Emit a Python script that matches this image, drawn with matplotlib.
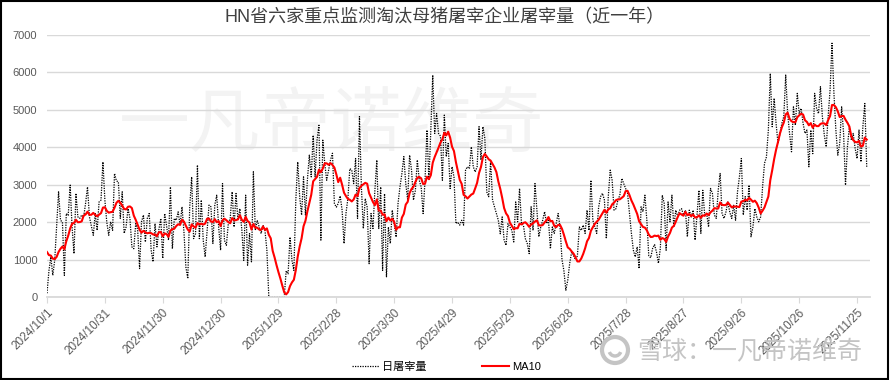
import matplotlib
matplotlib.use("Agg")
import matplotlib.pyplot as plt
from matplotlib.patches import Rectangle, Circle, Arc
from matplotlib.lines import Line2D
import pandas as pd

plt.rcParams["font.family"] = ["Liberation Sans", "Noto Sans CJK SC"]

title = "HN省六家重点监测淘汰母猪屠宰企业屠宰量（近一年）"
daily_name = "日屠宰量"
ma_name = "MA10"
start_date = "2024-10-01"

# last days of Sep 2024, only used so the MA10 has a value from the first day
warmup_sep24 = [1500, 1200, 1400, 1100, 1300, 1500, 1200, 1400, 1300]

# daily slaughter
oct24 = [100, 700, 1070, 580, 980, 1900, 2810, 2050, 2000, 580,
         2230, 2180, 2990, 1870, 1160, 2770, 2140, 2100, 2190, 2140,
         2500, 2940, 2140, 1900, 1650, 2230, 1780, 2540, 2590, 3610,
         2590]
nov24 = [2000, 1650, 2010, 1780, 3300, 3100, 3080, 2100, 2810, 1700,
         1870, 2360, 2100, 1340, 1290, 1960, 1800, 760, 2010, 2190,
         1470, 2100, 2230, 1250, 940, 1960, 1340, 1800, 2100, 1030]
dec24 = [2230, 1900, 1520, 2940, 1290, 2100, 2050, 2275, 1920, 2410,
         1740, 800, 490, 2410, 3210, 1560, 1690, 3525, 1560, 2590,
         1515, 1070, 1780, 2455, 2410, 1430, 2455, 2720, 1870, 1250,
         3030]
jan25 = [1515, 1380, 1960, 2100, 2810, 1870, 2765, 2050, 2360, 1800,
         980, 2720, 850, 1695, 940, 3345, 1780, 2050, 1870, 1695,
         1920, 1780, 1250, 0, 0, 0, 0, 0, 0, 0,
         0]
feb25 = [0, 700, 620, 1600, 980, 710, 2590, 3610, 2680, 2190,
         3210, 2190, 3120, 3790, 3210, 4320, 3210, 4190, 4590, 1520,
         4190, 3570, 3120, 3390, 3660, 3840, 2500, 2400]
mar25 = [2500, 2700, 2320, 1430, 2230, 2630, 3430, 3390, 3030, 3700,
         2100, 4820, 2940, 1830, 2630, 2400, 890, 2230, 1830, 2850,
         3660, 1830, 2940, 710, 2760, 540, 1870, 1430, 2320, 1960,
         1600]
apr25 = [2500, 2940, 3300, 3750, 3030, 2590, 3790, 3390, 2590, 2850,
         3660, 3120, 2940, 2230, 3120, 4460, 3120, 4460, 5930, 4370,
         4900, 4370, 4300, 3120, 4860, 3750, 4100, 2900, 3480, 3210]
may25 = [1960, 2000, 1920, 2050, 1920, 3390, 3480, 3430, 4010, 3480,
         3340, 3480, 4550, 3660, 4550, 4240, 2810, 2680, 3650, 2590,
         2410, 2230, 2050, 1690, 2140, 1520, 1380, 1960, 1870, 1780,
         1470]
jun25 = [2540, 2010, 2900, 1960, 1920, 1560, 1430, 1160, 2410, 1780,
         3030, 2320, 1610, 1870, 2050, 2280, 1960, 2050, 1290, 1870,
         1700, 1960, 2230, 1870, 1000, 700, 180, 450, 900, 1200]
jul25 = [1100, 1000, 1100, 1870, 1780, 1920, 1700, 2320, 1780, 3120,
         2050, 1870, 1700, 2400, 2680, 2770, 2590, 1560, 2680, 3390,
         3120, 2320, 2360, 2590, 2720, 3170, 3030, 2900, 2770, 2230,
         1700]
aug25 = [1250, 1070, 1340, 760, 2410, 2280, 2720, 2050, 1100, 1050,
         1300, 1400, 1200, 900, 1300, 2720, 2500, 1250, 2540, 2010,
         2720, 1870, 2320, 2140, 2320, 2360, 2190, 2320, 1610, 2320,
         2140]
sep25 = [2320, 1520, 2190, 2850, 1700, 2850, 2190, 2230, 1870, 2900,
         2770, 2190, 2100, 2850, 3300, 2230, 2100, 2270, 2540, 2270,
         2100, 2450, 2050, 2810, 3210, 3700, 2190, 2680, 2320, 2990]
oct25 = [1610, 1870, 2360, 2140, 2010, 2140, 2940, 3570, 3740, 4460,
         5970, 4550, 5310, 4640, 4100, 4370, 4640, 4820, 5930, 4900,
         4370, 3880, 5080, 4590, 5440, 4900, 5040, 4640, 4370, 4460,
         3480]
nov25 = [4460, 3830, 5440, 5040, 4900, 5620, 4820, 4330, 4010, 4820,
         5530, 6780, 5440, 4460, 3790, 4100, 5080, 4370, 2990, 4010,
         4550, 4190, 4370, 3970, 3700, 4460, 3610, 4550, 5170, 3480]

daily = (oct24 + nov24 + dec24 + jan25 + feb25 + mar25 + apr25 + may25
         + jun25 + jul25 + aug25 + sep25 + oct25 + nov25)
dates = pd.date_range(start_date, periods=len(daily), freq="D")
ma10 = pd.Series(warmup_sep24 + daily).rolling(10).mean().iloc[len(warmup_sep24):].to_numpy()
tick_dates = pd.date_range(start_date, periods=15, freq="30D")
tick_labels = [f"{d.year}/{d.month}/{d.day}" for d in tick_dates]

fig = plt.figure(figsize=(8.9, 3.8), dpi=100)
ax = fig.add_axes([47 / 890, 1 - 297 / 380, 823 / 890, 262 / 380])
ax.patch.set_visible(False)

ax.plot(dates, daily, color="black", lw=0.9, ls=(0, (1, 1)), zorder=3)
ax.plot(dates, ma10, color="#ff0000", lw=1.5, zorder=4)

ax.set_ylim(0, 7000)
ax.set_yticks(range(0, 7001, 1000))
ax.set_xlim(dates[0], dates[0] + pd.Timedelta(days=426.7))
ax.set_xticks(tick_dates)
ax.set_xticklabels(tick_labels, rotation=45, ha="right", va="top", rotation_mode="anchor")

ax.yaxis.grid(True, color="#d9d9d9", lw=1)
ax.set_axisbelow(True)
for side in ["top", "right", "left"]:
    ax.spines[side].set_visible(False)
ax.spines["bottom"].set_color("#d9d9d9")
ax.spines["bottom"].set_linewidth(1.3)
ax.spines["bottom"].set_zorder(3.5)  # hides the zero days that sit on the axis
ax.tick_params(axis="y", length=0, labelsize=8, labelcolor="#595959", pad=7)
ax.tick_params(axis="x", length=4, color="#d9d9d9", labelsize=8.5, labelcolor="#595959", pad=3)

fig.text(0.5, 1 - 18 / 380, title, ha="center", va="center", fontsize=13, color="#404040")

# watermarks
ax.text(0.373, 0.663, "一凡帝诺维奇", transform=fig.transFigure, ha="center", va="center",
        fontsize=51, color="#f3f3f3", zorder=0.1)
fig.text(0.716, 1 - 352 / 380, "雪球：一凡帝诺维奇", ha="left", va="center",
         fontsize=18, color="#c4c4c4", zorder=10)
fig.add_artist(Circle((6.15, 0.30), 0.13, transform=fig.dpi_scale_trans, fill=False,
                      edgecolor="#c4c4c4", lw=3, zorder=10))
fig.add_artist(Arc((6.15, 0.30), 0.12, 0.12, theta1=200, theta2=340, transform=fig.dpi_scale_trans,
                   edgecolor="#c4c4c4", lw=2.5, zorder=10))

handles = [Line2D([], [], color="black", lw=0.9, ls=(0, (1, 1))),
           Line2D([], [], color="#ff0000", lw=1.5)]
fig.legend(handles, [daily_name, ma_name], loc="center", bbox_to_anchor=(0.502, 0.034), ncol=2,
           frameon=False, fontsize=8, handlelength=2.4, handletextpad=0.3, columnspacing=5)

fig.add_artist(Rectangle((0.001, 0.002), 0.997, 0.995, transform=fig.transFigure, fill=False,
                         edgecolor="black", lw=1.5))

fig.savefig("out.png", dpi=100)
